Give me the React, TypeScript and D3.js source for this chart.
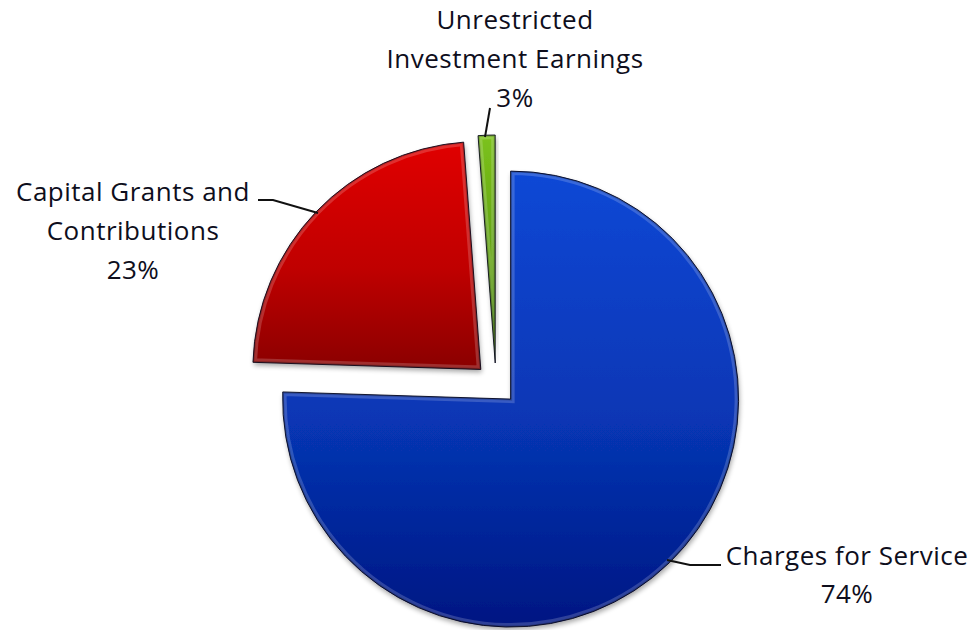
import React from "react";
import * as d3 from "d3";

const categories = ["Charges for Service", "Capital Grants and Contributions", "Unrestricted Investment Earnings"];
const shares = [75.5, 23.3, 1.2];
const percentLabels = ["74%", "23%", "3%"];
const labelLines = [
  ["Charges for Service", "74%"],
  ["Capital Grants and", "Contributions", "23%"],
  ["Unrestricted", "Investment Earnings", "3%"],
];
const topColors = ["#0d48d6", "#e00404", "#7cc21c"];
const midColors = ["#0736b4", "#c00000", "#5fa010"];
const bottomColors = ["#001682", "#8a0000", "#3f7a00"];

const W = 975;
const H = 630;
const cx = 496;
const cy = 384;
const R = 228;
const explode = 21;

const labelPos = [
  { x: 847, y: 565 },
  { x: 133, y: 201 },
  { x: 515, y: 29 },
];
const leaders: [number, number][][] = [
  [[721, 565], [690, 565], [667, 560]],
  [[258, 200], [273, 200], [318, 213]],
  [[490, 108], [485, 137]],
];

export default function App() {
  const pie = d3.pie<number>().sort(null).startAngle(0).endAngle(2 * Math.PI);
  const arcs = pie(shares);
  const arcGen = d3.arc<d3.PieArcDatum<number>>().innerRadius(0).outerRadius(R);

  return (
    <svg width={W} height={H} style={{ position: "absolute", left: 0, top: 0, background: "#fff" }}>
      <defs>
        {shares.map((_, i) => (
          <linearGradient key={i} id={`g${i}`} x1="0" y1="0" x2="0" y2="1">
            <stop offset="0%" stopColor={topColors[i]} />
            <stop offset="55%" stopColor={midColors[i]} />
            <stop offset="100%" stopColor={bottomColors[i]} />
          </linearGradient>
        ))}
        {arcs.map((a, i) => (
          <clipPath key={i} id={`c${i}`}>
            <path d={arcGen(a) || ""} />
          </clipPath>
        ))}
        <filter id="sh" x="-20%" y="-20%" width="140%" height="140%">
          <feGaussianBlur in="SourceAlpha" stdDeviation="2.5" />
          <feOffset dx="1" dy="3" result="b" />
          <feComponentTransfer>
            <feFuncA type="linear" slope="0.35" />
          </feComponentTransfer>
          <feMerge>
            <feMergeNode />
            <feMergeNode in="SourceGraphic" />
          </feMerge>
        </filter>
      </defs>
      {arcs.map((a, i) => {
        const mid = (a.startAngle + a.endAngle) / 2;
        const tx = cx + explode * Math.sin(mid);
        const ty = cy - explode * Math.cos(mid);
        const d = arcGen(a) || "";
        return (
          <g key={categories[i]} transform={`translate(${tx},${ty})`}>
            <path d={d} fill={`url(#g${i})`} filter="url(#sh)" />
            <g clipPath={`url(#c${i})`}>
              <path d={d} fill="none" stroke="rgba(255,255,255,0.18)" strokeWidth={8} />
              <path d={d} fill="none" stroke="rgba(0,0,0,0.2)" strokeWidth={3} />
            </g>
            <path d={d} fill="none" stroke="rgba(0,0,20,0.85)" strokeWidth={1} />
          </g>
        );
      })}
      {leaders.map((pts, i) => (
        <path key={i} d={d3.line()(pts) || ""} fill="none" stroke="#111" strokeWidth={2} />
      ))}
      {labelLines.map((lines, i) => (
        <text
          key={i}
          x={labelPos[i].x}
          y={labelPos[i].y}
          textAnchor="middle"
          fontFamily="'Open Sans', Lato, sans-serif"
          fontSize={26}
          fontWeight={500}
          letterSpacing={0.5}
          fill="#0e0e1c"
        >
          {lines.map((t, j) => (
            <tspan key={j} x={labelPos[i].x} dy={j === 0 ? 0 : i === 0 ? 38 : 39}>
              {j === lines.length - 1 ? percentLabels[i] : t}
            </tspan>
          ))}
        </text>
      ))}
    </svg>
  );
}
